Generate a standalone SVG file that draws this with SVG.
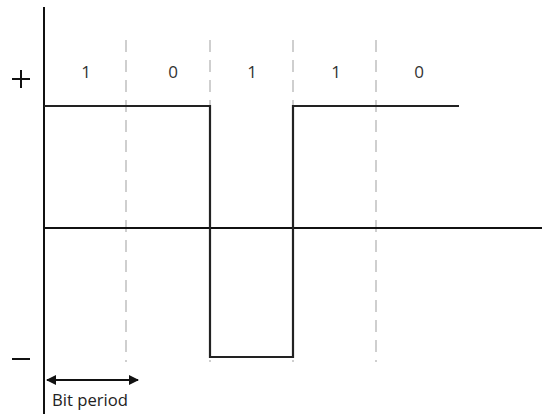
<svg xmlns="http://www.w3.org/2000/svg" width="542" height="414" viewBox="0 0 542 414">
<defs>
<style>
.ax{stroke:#111;stroke-width:2;fill:none}
.sig{stroke:#222;stroke-width:2.2;fill:none}
.dash{stroke:#c4c4c4;stroke-width:1.6;stroke-dasharray:12 8;fill:none}
.lbl{font-family:"Open Sans","Liberation Sans",sans-serif;font-size:17px;fill:#333;text-anchor:middle}
</style>
<marker id="ah" viewBox="0 0 10 10" refX="9" refY="5" markerWidth="12" markerHeight="10" markerUnits="userSpaceOnUse" orient="auto-start-reverse">
<path d="M0,0 L10,5 L0,10 z" fill="#111"/>
</marker>
</defs>
<g id="grid">
<line class="dash" x1="126" y1="40" x2="126" y2="362"/>
<line class="dash" x1="210" y1="40" x2="210" y2="362"/>
<line class="dash" x1="293" y1="40" x2="293" y2="362"/>
<line class="dash" x1="376" y1="40" x2="376" y2="362"/>
</g>
<g id="axes">
<line class="ax" x1="44" y1="7" x2="44" y2="414"/>
<line class="ax" x1="44" y1="228" x2="542" y2="228"/>
<line class="ax" x1="12" y1="79" x2="30" y2="79"/>
<line class="ax" x1="21" y1="70" x2="21" y2="88"/>
<line class="ax" x1="12" y1="359" x2="30" y2="359"/>
</g>
<g id="signal">
<path class="sig" d="M44,106 H210 V357 H293 V106 H459"/>
</g>
<g id="bits">
<text class="lbl" x="86" y="78">1</text>
<text class="lbl" x="173" y="78">0</text>
<text class="lbl" x="252" y="78">1</text>
<text class="lbl" x="336" y="78">1</text>
<text class="lbl" x="419" y="78">0</text>
</g>
<g id="connectors">
<line class="ax" x1="47" y1="380" x2="138" y2="380" marker-start="url(#ah)" marker-end="url(#ah)"/>
</g>
<g id="bitperiod">
<text x="52" y="406" font-family="Open Sans, Liberation Sans, sans-serif" font-size="16" fill="#222" textLength="76" lengthAdjust="spacingAndGlyphs">Bit period</text>
</g>
</svg>
